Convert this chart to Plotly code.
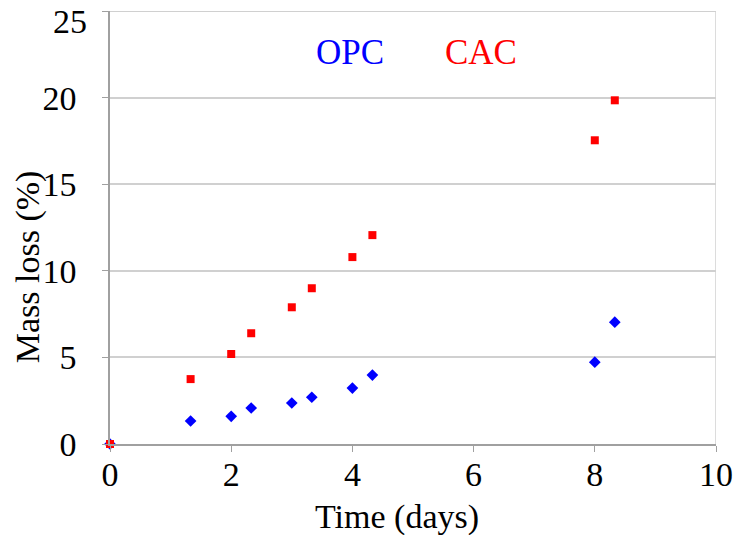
import plotly.graph_objects as go

days = [0, 1.33, 2, 2.33, 3, 3.33, 4, 4.33, 8, 8.33]
opc_loss = [0, 1.33, 1.6, 2.08, 2.37, 2.7, 3.23, 3.98, 4.73, 7.04]
cac_loss = [0, 3.75, 5.2, 6.4, 7.9, 9.0, 10.8, 12.07, 17.55, 19.86]
x_ticks = [0, 2, 4, 6, 8, 10]
y_ticks = [0, 5, 10, 15, 20, 25]
y_ticktext = ["0", "5", "10", "15", "20", ""]  # top label drawn separately, nudged down
top_label = "25"

serif = "Liberation Serif, Times New Roman, serif"
grid_col = "#d0d0d0"
axis_col = "#a0a0a0"

fig = go.Figure()
fig.add_trace(go.Scatter(x=days, y=opc_loss, mode="markers", name="OPC",
                         marker=dict(symbol="diamond", size=9, color="#0000ff"),
                         cliponaxis=False))
fig.add_trace(go.Scatter(x=days, y=cac_loss, mode="markers", name="CAC",
                         marker=dict(symbol="square", size=8, color="#ff0000"),
                         cliponaxis=False))

ann_font = dict(family=serif, size=34, color="black")
fig.add_annotation(x=3.96, y=22.6, text="OPC", showarrow=False,
                   font=dict(family=serif, size=35, color="#0000ff"))
fig.add_annotation(x=6.13, y=22.6, text="CAC", showarrow=False,
                   font=dict(family=serif, size=35, color="#ff0000"))
# axis titles placed as annotations to match reference offsets
fig.add_annotation(x=0.473, y=-0.168, xref="paper", yref="paper", text="Time (days)",
                   showarrow=False, yanchor="middle", font=ann_font)
fig.add_annotation(x=-0.134, y=0.41, xref="paper", yref="paper", text="Mass loss (%)",
                   showarrow=False, textangle=-90, xanchor="center", yanchor="middle",
                   font=ann_font)
# top y tick label, nudged down so it stays inside the page (as in the reference)
fig.add_annotation(x=0, y=y_ticks[-1], xref="paper", yref="y", text=top_label,
                   showarrow=False, xanchor="right", yanchor="middle", xshift=-21, yshift=-10,
                   font=ann_font)

fig.update_xaxes(range=[0, 10], tickvals=x_ticks, ticks="outside", ticklen=6,
                 tickcolor=axis_col, showline=True, linecolor=axis_col, linewidth=1.5,
                 showgrid=False, zeroline=False, automargin=False,
                 ticklabeloverflow="allow", ticklabelstandoff=-7,
                 tickfont=dict(family=serif, size=34, color="black"))
fig.update_yaxes(range=[0, 25.02], tickvals=y_ticks, ticktext=y_ticktext,
                 ticks="outside", ticklen=6,
                 tickcolor=axis_col, showline=True, linecolor=axis_col, linewidth=1.5,
                 showgrid=True, gridcolor=grid_col, gridwidth=1.5, zeroline=False,
                 automargin=False, ticklabeloverflow="allow", ticklabelstandoff=19,
                 tickfont=dict(family=serif, size=34, color="black"))

# right border at x=10 and top border at y=25
fig.add_shape(type="line", xref="x", yref="y", x0=10, x1=10, y0=0, y1=25,
              line=dict(color=grid_col, width=1.5))
fig.add_shape(type="line", xref="x", yref="y", x0=0, x1=10, y0=25, y1=25,
              line=dict(color=grid_col, width=1.5))

fig.update_layout(width=737, height=535, showlegend=False,
                  plot_bgcolor="white", paper_bgcolor="white",
                  margin=dict(l=110, r=21, t=11, b=91))

fig.write_html("out.html", config={"displayModeBar": False})
with open("out.html", encoding="utf-8") as f:
    html = f.read()
html = html.replace("<head>", "<head><style>html,body{margin:0;padding:0;overflow:hidden;}</style>", 1)
with open("out.html", "w", encoding="utf-8") as f:
    f.write(html)
